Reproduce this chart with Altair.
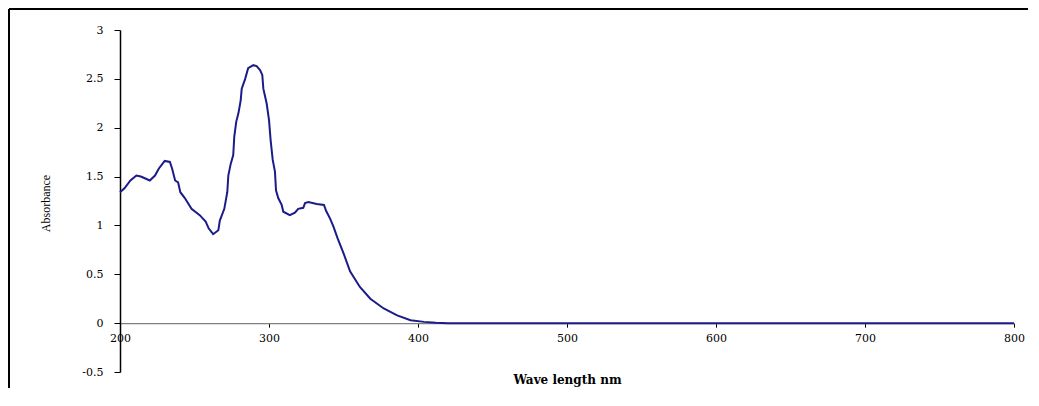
import altair as alt
import pandas as pd

wavelength = [200, 203, 207, 211, 214, 217, 220, 223.5, 226, 230, 233.5, 235, 237, 239, 240.5,
              243.5, 248, 253.5, 257.5, 259.5, 262.5, 266, 267, 270, 272, 272.7, 274.3, 276,
              276.7, 278, 279.5, 281, 281.7, 284, 286, 289.5, 291.7, 294, 295.5, 296.2, 298.4,
              300, 301.1, 302.5, 304, 304.7, 306.2, 308.5, 309.6, 314, 317.4, 319.6, 323, 324.2,
              326.4, 332, 336.9, 338.3, 341, 343.2, 346, 349.9, 354.4, 361, 368, 377, 386, 395,
              404, 412, 420, 500, 600, 700, 800]
absorbance = [1.34, 1.38, 1.46, 1.51, 1.50, 1.48, 1.46, 1.51, 1.58, 1.66, 1.65, 1.58, 1.46, 1.44, 1.34,
              1.28, 1.17, 1.105, 1.04, 0.97, 0.91, 0.95, 1.05, 1.17, 1.34, 1.51, 1.63, 1.72,
              1.91, 2.06, 2.15, 2.28, 2.40, 2.50, 2.61, 2.64, 2.63, 2.59, 2.54, 2.40, 2.25,
              2.08, 1.87, 1.67, 1.55, 1.36, 1.28, 1.21, 1.14, 1.105, 1.13, 1.17, 1.18, 1.23,
              1.24, 1.22, 1.21, 1.15, 1.07, 0.99, 0.87, 0.72, 0.53, 0.37, 0.25, 0.15, 0.08, 0.03,
              0.013, 0.005, 0.0, 0.0, 0.0, 0.0, 0.0]

x_ticks = [200, 300, 400, 500, 600, 700, 800]
y_ticks = [-0.5, 0, 0.5, 1, 1.5, 2, 2.5, 3]

df = pd.DataFrame({"wl": wavelength, "abs": absorbance})

W, H = 894, 342
PAD_R = 14
zero_offset = -H * 0.5 / 3.5

line = alt.Chart(df).mark_line(color="#1b1b8a", strokeWidth=2, clip=False).encode(
    x=alt.X("wl:Q", scale=alt.Scale(domain=[200, 800], nice=False, zero=False),
            axis=alt.Axis(values=x_ticks, title="Wave length nm", offset=zero_offset,
                          domainColor="#808080", domainWidth=1.2, tickColor="#000000",
                          tickSize=4, labelPadding=5, labelFont="DejaVu Serif",
                          labelFontSize=11, labelColor="#000000", grid=False,
                          labelFlush=False,
                          titleFont="DejaVu Serif", titleFontSize=12, titleFontWeight="bold",
                          titleColor="#000000", titleY=56, titleBaseline="middle")),
    y=alt.Y("abs:Q", scale=alt.Scale(domain=[-0.5, 3], nice=False, zero=False),
            axis=alt.Axis(values=y_ticks, labelExpr="'' + datum.value", title="Absorbance",
                          domainColor="#000000", domainWidth=1.5, tickColor="#000000",
                          tickSize=6, labelPadding=11, labelFont="DejaVu Serif",
                          labelFontSize=11, labelColor="#000000", grid=False,
                          labelFlush=False,
                          titleFont="Liberation Serif", titleFontSize=12,
                          titleFontWeight="normal", titleColor="#000000",
                          titleX=-75, titleY=173, titleAngle=270,
                          titleAlign="center", titleBaseline="middle")),
)

frame_df = pd.DataFrame({"k": [0]})
frame_left = alt.Chart(frame_df).mark_rule(color="#000000", strokeWidth=2, clip=False).encode(
    x=alt.value(-111), y=alt.value(-21), y2=alt.value(H + 16)
)
frame_top = alt.Chart(frame_df).mark_rule(color="#000000", strokeWidth=2, clip=False).encode(
    x=alt.value(-111), x2=alt.value(W + PAD_R), y=alt.value(-21)
)

chart = alt.layer(frame_left, frame_top, line).properties(
    width=W, height=H,
    padding={"left": 112, "top": 22, "right": PAD_R, "bottom": 16},
    autosize=alt.AutoSizeParams(type="none"),
).configure(background="white", view={"stroke": "transparent", "strokeWidth": 0})

chart.save("out.html", embed_options={"renderer": "svg", "actions": False})
